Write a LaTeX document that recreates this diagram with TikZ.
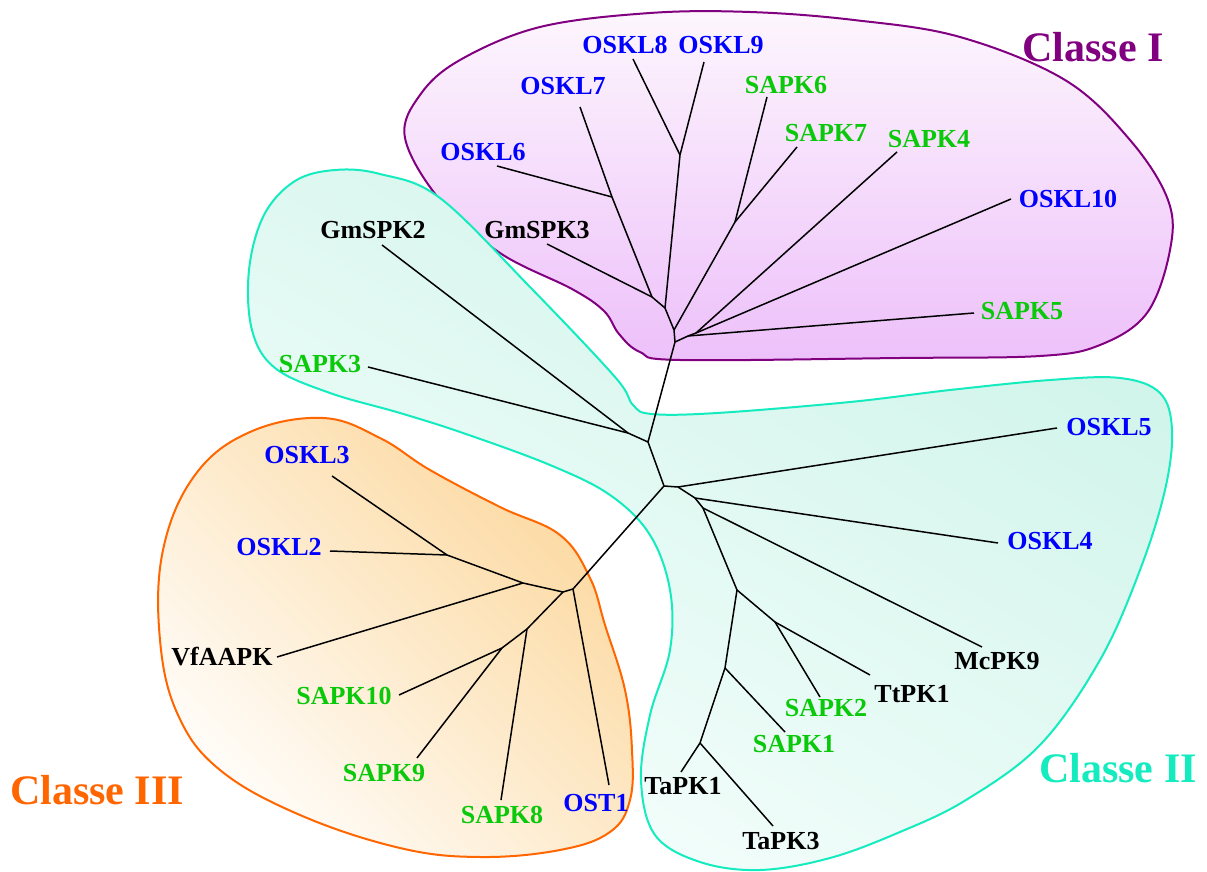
\documentclass[tikz,border=0pt]{standalone}
\usepackage{fontspec}
\setmainfont{Liberation Serif}
\usepackage{tikz}

\definecolor{clrClasseI}{RGB}{128,0,128}
\definecolor{clrClasseII}{RGB}{20,235,190}
\definecolor{clrClasseIII}{RGB}{255,102,0}
\definecolor{clrBleu}{RGB}{0,0,255}
\definecolor{clrVert}{RGB}{10,200,10}
\tikzstyle{leaf0}=[font=\bfseries\fontsize{13}{15}\selectfont, inner sep=0pt]
\tikzstyle{bleu}=[leaf0, text=clrBleu]
\tikzstyle{vert}=[leaf0, text=clrVert]
\tikzstyle{noir}=[leaf0, text=black]
\tikzstyle{classe}=[font=\bfseries\fontsize{21}{25}\selectfont, inner sep=0pt]
\tikzstyle{branche}=[line width=0.75pt, line join=round]
\tikzstyle{zoneI}=[draw=clrClasseI, line width=1pt, top color={rgb,255:red,253;green,246;blue,253}, bottom color={rgb,255:red,237;green,192;blue,250}]
\tikzstyle{zoneII}=[draw=clrClasseII, line width=1pt, top color={rgb,255:red,206;green,244;blue,233}, bottom color={rgb,255:red,246;green,254;blue,252}, shading angle=-30]
\tikzstyle{zoneIII}=[draw=clrClasseIII, line width=1pt, top color={rgb,255:red,252;green,216;blue,158}, bottom color={rgb,255:red,255;green,253;blue,250}, shading angle=-45]

\begin{document}
\begin{tikzpicture}[x=0.5pt, y=-0.5pt]
		\useasboundingbox (0,0) rectangle (1207,872);

		% zones des classes
		\path[zoneI] plot[smooth cycle, tension=0.6] coordinates {(680,360) (640,352) (619,334) (604,311) (572,289) (500,253) (440,200) (405,138) (420,95) (460,60) (540,27) (650,13) (750,12) (854,20) (960,37) (1065,80) (1130,140) (1168,200) (1170,250) (1147,313) (1100,345) (1040,356) (900,358)};
		\path[zoneII] plot[smooth cycle, tension=0.6] coordinates {(335,170) (295,181) (264,215) (249,270) (252,330) (275,368) (330,393) (400,413) (463,433) (550,465) (610,495) (650,535) (670,590) (670,650) (650,715) (641,780) (655,835) (700,862) (760,870) (830,858) (900,832) (966,800) (1040,745) (1100,660) (1140,570) (1165,490) (1172,430) (1160,393) (1120,378) (1050,380) (950,390) (850,402) (717,413) (652,414) (633,405) (615,377) (530,287) (440,198) (380,174)};
		\path[zoneIII] plot[smooth cycle, tension=0.65] coordinates {(323,418) (250,432) (195,475) (163,550) (160,640) (178,715) (220,770) (300,815) (400,848) (480,857) (560,850) (610,832) (630,800) (632,750) (625,690) (605,625) (590,578) (560,535) (500,507) (430,470) (380,438)};

		% noeuds internes
		\coordinate (A) at (675,342);
		\coordinate (B) at (688,336);
		\coordinate (C) at (696,333);
		\coordinate (D) at (674,330);
		\coordinate (E) at (735,222);
		\coordinate (F) at (665,308);
		\coordinate (G) at (680,155);
		\coordinate (H) at (652,297);
		\coordinate (I) at (612,197);
		\coordinate (J) at (648,442);
		\coordinate (K) at (628,433);
		\coordinate (L) at (664,486);
		\coordinate (M) at (573,589);
		\coordinate (N) at (563,592);
		\coordinate (O) at (523,583);
		\coordinate (P) at (447,555);
		\coordinate (Q) at (527,629);
		\coordinate (R) at (502,648);
		\coordinate (S) at (678,487);
		\coordinate (T) at (695,498);
		\coordinate (U) at (703,508);
		\coordinate (V) at (737,590);
		\coordinate (W) at (775,622);
		\coordinate (X) at (725,668);
		\coordinate (Y) at (700,743);

		% extremites des feuilles
		\coordinate (tOSKL8) at (633,59);
		\coordinate (tOSKL9) at (704,62);
		\coordinate (tOSKL7) at (580,107);
		\coordinate (tOSKL6) at (497,166);
		\coordinate (tGmSPK3) at (547,244);
		\coordinate (tSAPK6) at (767,97);
		\coordinate (tSAPK7) at (797,147);
		\coordinate (tSAPK4) at (897,152);
		\coordinate (tOSKL10) at (1011,199);
		\coordinate (tSAPK5) at (974,313);
		\coordinate (tGmSPK2) at (382,245);
		\coordinate (tSAPK3) at (368,367);
		\coordinate (tOSKL5) at (1057,428);
		\coordinate (tOSKL4) at (998,543);
		\coordinate (tMcPK9) at (982,647);
		\coordinate (tTtPK1) at (870,675);
		\coordinate (tSAPK2) at (820,697);
		\coordinate (tSAPK1) at (785,732);
		\coordinate (tTaPK1) at (681,772);
		\coordinate (tTaPK3) at (773,826);
		\coordinate (tOSKL3) at (332,476);
		\coordinate (tOSKL2) at (330,551);
		\coordinate (tVfAAPK) at (277,657);
		\coordinate (tSAPK10) at (399,695);
		\coordinate (tSAPK9) at (417,758);
		\coordinate (tSAPK8) at (501,800);
		\coordinate (tOST1) at (609,785);

		% classe I
		\draw[branche] (A) -- (B) -- (tSAPK5);
		\draw[branche] (B) -- (C) -- (tSAPK4);
		\draw[branche] (C) -- (tOSKL10);
		\draw[branche] (A) -- (D) -- (E) -- (tSAPK6);
		\draw[branche] (E) -- (tSAPK7);
		\draw[branche] (D) -- (F) -- (G) -- (tOSKL8);
		\draw[branche] (G) -- (tOSKL9);
		\draw[branche] (F) -- (H) -- (tGmSPK3);
		\draw[branche] (H) -- (I) -- (tOSKL7);
		\draw[branche] (I) -- (tOSKL6);

		% tronc + GmSPK2 / SAPK3
		\draw[branche] (A) -- (J) -- (K) -- (tGmSPK2);
		\draw[branche] (K) -- (tSAPK3);
		\draw[branche] (J) -- (L);

		% classe III
		\draw[branche] (L) -- (M) -- (tOST1);
		\draw[branche] (M) -- (N) -- (O) -- (tVfAAPK);
		\draw[branche] (O) -- (P) -- (tOSKL3);
		\draw[branche] (P) -- (tOSKL2);
		\draw[branche] (N) -- (Q) -- (tSAPK8);
		\draw[branche] (Q) -- (R) -- (tSAPK10);
		\draw[branche] (R) -- (tSAPK9);

		% classe II
		\draw[branche] (L) -- (S) -- (tOSKL5);
		\draw[branche] (S) -- (T) -- (tOSKL4);
		\draw[branche] (T) -- (U) -- (tMcPK9);
		\draw[branche] (U) -- (V) -- (W) -- (tTtPK1);
		\draw[branche] (W) -- (tSAPK2);
		\draw[branche] (V) -- (X) -- (tSAPK1);
		\draw[branche] (X) -- (Y) -- (tTaPK1);
		\draw[branche] (Y) -- (tTaPK3);

		% etiquettes
		\node[bleu] (OSKL8) at (625,45) {OSKL8};
		\node[bleu] (OSKL9) at (721,45) {OSKL9};
		\node[bleu] (OSKL7) at (563,86) {OSKL7};
		\node[vert] (SAPK6) at (786,85) {SAPK6};
		\node[bleu] (OSKL6) at (483,152) {OSKL6};
		\node[noir] (GmSPK3) at (537,230) {GmSPK3};
		\node[noir] (GmSPK2) at (373,230) {GmSPK2};
		\node[vert] (SAPK3) at (320,364) {SAPK3};
		\node[vert] (SAPK7) at (826,133) {SAPK7};
		\node[vert] (SAPK4) at (929,139) {SAPK4};
		\node[bleu] (OSKL10) at (1068,199) {OSKL10};
		\node[vert] (SAPK5) at (1022,311) {SAPK5};
		\node[bleu] (OSKL5) at (1109,427) {OSKL5};
		\node[bleu] (OSKL4) at (1050,541) {OSKL4};
		\node[noir] (McPK9) at (997,661) {McPK9};
		\node[noir] (TtPK1) at (912,694) {TtPK1};
		\node[vert] (SAPK2) at (826,708) {SAPK2};
		\node[vert] (SAPK1) at (794,744) {SAPK1};
		\node[noir] (TaPK1) at (683,786) {TaPK1};
		\node[noir] (TaPK3) at (781,841) {TaPK3};
		\node[bleu] (OSKL3) at (307,455) {OSKL3};
		\node[bleu] (OSKL2) at (279,547) {OSKL2};
		\node[noir] (VfAAPK) at (222,657) {VfAAPK};
		\node[vert] (SAPK10) at (344,696) {SAPK10};
		\node[vert] (SAPK9) at (384,773) {SAPK9};
		\node[vert] (SAPK8) at (502,815) {SAPK8};
		\node[bleu] (OST1) at (596,803) {OST1};

		\node[classe, text=clrClasseI] (classeI) at (1093,47) {Classe I};
		\node[classe, text=clrClasseII] (classeII) at (1118,768) {Classe II};
		\node[classe, text=clrClasseIII] (classeIII) at (97,790) {Classe III};

	\end{tikzpicture}
\end{document}
